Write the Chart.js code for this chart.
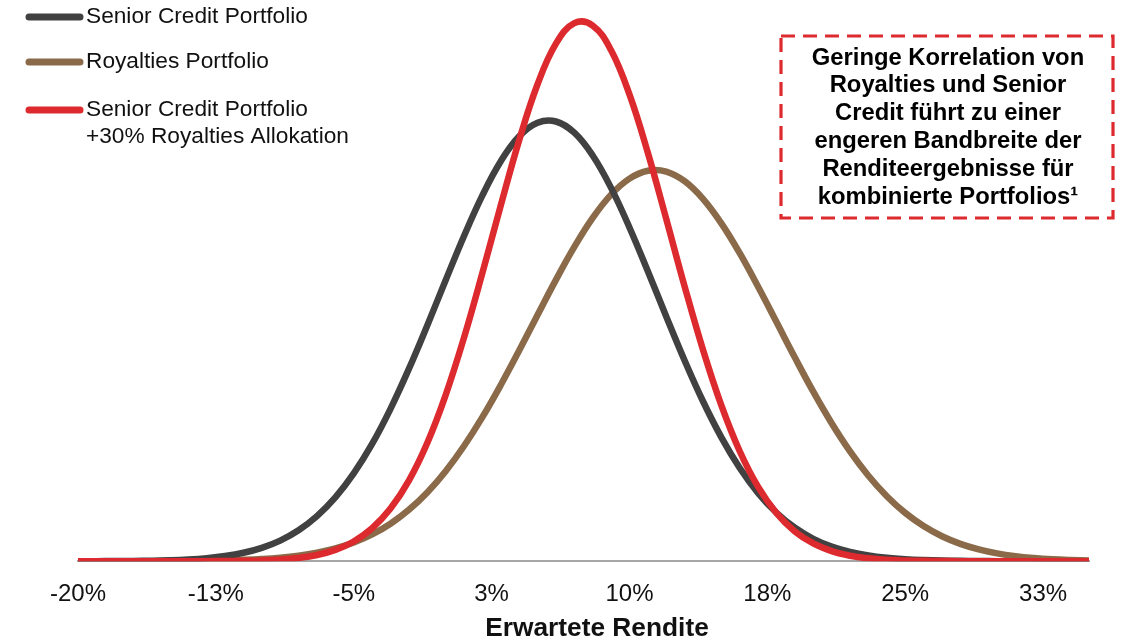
<!DOCTYPE html>
<html>
<head>
<meta charset="utf-8">
<script src="https://cdn.jsdelivr.net/npm/chart.js@4.4.0/dist/chart.umd.min.js"></script>
<style>
  html, body { margin: 0; padding: 0; background: #fff; }
  #wrap { position: relative; width: 1133px; height: 642px; }
</style>
</head>
<body>
<div id="wrap"><canvas id="myChart"></canvas></div>
<script>
// expected return (%) on the x axis
const returns = [
  -20, -19, -18, -17, -16, -15, -14, -13, -12, -11,
  -10, -9, -8, -7, -6, -5, -4, -3, -2, -1,
  0, 1, 2, 3, 4, 5, 6, 7, 8, 9,
  10, 11, 12, 13, 14, 15, 16, 17, 18, 19,
  20, 21, 22, 23, 24, 25, 26, 27, 28, 29,
  30, 31, 32, 33, 34, 35
];

const seniorCredit = [
  0.001, 0.001, 0.002, 0.004, 0.008, 0.015, 0.027, 0.047, 0.079, 0.129,
  0.205, 0.316, 0.474, 0.691, 0.978, 1.346, 1.798, 2.337, 2.949, 3.616,
  4.309, 4.988, 5.611, 6.135, 6.516, 6.725, 6.744, 6.572, 6.223, 5.726,
  5.119, 4.447, 3.754, 3.079, 2.453, 1.900, 1.430, 1.045, 0.743, 0.513,
  0.344, 0.224, 0.142, 0.087, 0.052, 0.030, 0.017, 0.009, 0.005, 0.003,
  0.001, 0.001, 0, 0, 0, 0
];

const royalties = [
  0, 0, 0, 0.001, 0.001, 0.002, 0.004, 0.007, 0.012, 0.021,
  0.034, 0.054, 0.085, 0.131, 0.196, 0.287, 0.411, 0.575, 0.788, 1.055,
  1.381, 1.767, 2.209, 2.702, 3.230, 3.776, 4.315, 4.820, 5.265, 5.622,
  5.868, 5.989, 5.976, 5.829, 5.558, 5.182, 4.724, 4.209, 3.667, 3.123,
  2.600, 2.117, 1.685, 1.311, 0.997, 0.741, 0.539, 0.383, 0.266, 0.181,
  0.120, 0.078, 0.050, 0.031, 0.019, 0.011
];

const combined = [
  0, 0, 0, 0, 0, 0, 0, 0.001, 0.003, 0.006,
  0.012, 0.025, 0.050, 0.095, 0.174, 0.302, 0.505, 0.807, 1.236, 1.813,
  2.548, 3.429, 4.421, 5.458, 6.456, 7.315, 7.938, 8.252, 8.216, 7.836,
  7.159, 6.265, 5.251, 4.216, 3.243, 2.389, 1.686, 1.139, 0.738, 0.457,
  0.272, 0.155, 0.084, 0.044, 0.022, 0.011, 0.005, 0.002, 0.001, 0,
  0, 0, 0, 0, 0, 0
];

const tickValues = [-20, -12.5, -5, 2.5, 10, 17.5, 25, 32.5];
const tickLabels = ["-20%", "-13%", "-5%", "3%", "10%", "18%", "25%", "33%"];

const seriesNames = [
  ["Senior Credit Portfolio"],
  ["Royalties Portfolio"],
  ["Senior Credit Portfolio", "+30% Royalties Allokation"]
];

const axisTitle = "Erwartete Rendite";

const noteLines = [
  "Geringe Korrelation von",
  "Royalties und Senior",
  "Credit führt zu einer",
  "engeren Bandbreite der",
  "Renditeergebnisse für",
  "kombinierte Portfolios¹"
];

const FONT = "'Liberation Sans', Arial, sans-serif";
const colors = ["#404140", "#8a6a49", "#dc2a2e"];

function toPoints(values) {
  return returns.map((x, i) => ({ x: x, y: values[i] }));
}

// legend, axis title and text box drawn on the canvas
const overlay = {
  id: "overlay",
  afterDraw(chart) {
    const { ctx } = chart;
    ctx.save();

    // legend
    const rows = [17, 62, 110];
    ctx.font = "22.7px " + FONT;
    ctx.textBaseline = "middle";
    ctx.textAlign = "left";
    seriesNames.forEach((lines, i) => {
      const y = rows[i];
      ctx.beginPath();
      ctx.strokeStyle = colors[i];
      ctx.lineWidth = 7;
      ctx.lineCap = "round";
      ctx.moveTo(29, y);
      ctx.lineTo(80, y);
      ctx.stroke();
      ctx.fillStyle = "#111";
      lines.forEach((t, j) => ctx.fillText(t, 86, y + j * 26.5));
    });

    // x axis title
    ctx.font = "bold 26.3px " + FONT;
    ctx.textAlign = "center";
    ctx.textBaseline = "alphabetic";
    ctx.fillStyle = "#111";
    ctx.fillText(axisTitle, 597, 636);

    // dashed note box
    ctx.beginPath();
    ctx.setLineDash([14, 8]);
    ctx.lineCap = "butt";
    ctx.lineWidth = 3.2;
    ctx.strokeStyle = "#dc2a2e";
    ctx.rect(781, 36, 332, 182);
    ctx.stroke();
    ctx.setLineDash([]);

    ctx.font = "bold 23.8px " + FONT;
    ctx.fillStyle = "#000";
    ctx.textAlign = "center";
    ctx.textBaseline = "middle";
    noteLines.forEach((t, i) => ctx.fillText(t, 948, 58 + i * 27.8));

    ctx.restore();
  }
};

const config = {
  type: "line",
  data: {
    datasets: [
      {
        label: "Senior Credit Portfolio",
        data: toPoints(seniorCredit),
        borderColor: colors[0],
        order: 1
      },
      {
        label: "Royalties Portfolio",
        data: toPoints(royalties),
        borderColor: colors[1],
        order: 2
      },
      {
        label: "Senior Credit Portfolio +30% Royalties Allokation",
        data: toPoints(combined),
        borderColor: colors[2],
        order: 0
      }
    ]
  },
  options: {
    responsive: true,
    maintainAspectRatio: false,
    animation: false,
    layout: {
      padding: { top: 7, left: 78, right: 44, bottom: 14 }
    },
    elements: {
      point: { radius: 0 },
      line: {
        borderWidth: 6.5,
        borderCapStyle: "round",
        borderJoinStyle: "round",
        tension: 0.4,
        fill: false
      }
    },
    scales: {
      x: {
        type: "linear",
        min: -20,
        max: 35,
        afterBuildTicks: (scale) => {
          scale.ticks = tickValues.map(v => ({ value: v }));
        },
        grid: { display: false, drawTicks: false },
        border: { display: true, color: "#a6a6a6", width: 2 },
        ticks: {
          padding: 19,
          maxRotation: 0,
          autoSkip: false,
          color: "#111",
          font: { family: FONT, size: 24 },
          callback: (value) => {
            const i = tickValues.indexOf(value);
            return i >= 0 ? tickLabels[i] : "";
          }
        }
      },
      y: {
        display: false,
        min: 0,
        max: 8.5
      }
    },
    plugins: {
      legend: { display: false },
      tooltip: { enabled: false }
    }
  },
  plugins: [overlay]
};

const myChart = new Chart(document.getElementById("myChart"), config);
</script>
</body>
</html>
